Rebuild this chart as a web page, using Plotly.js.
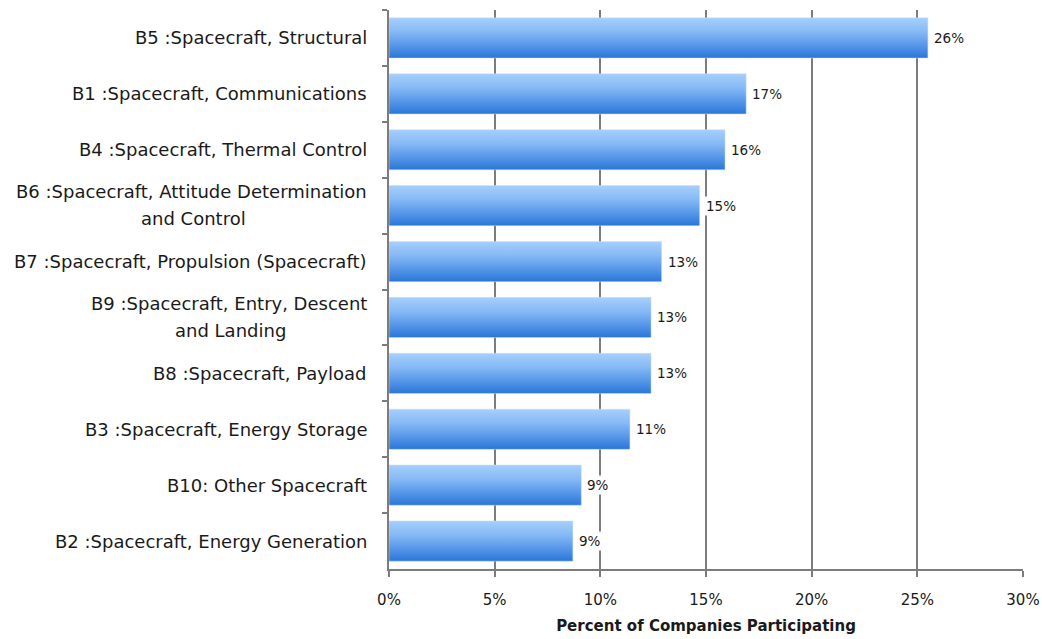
<!DOCTYPE html>
<html>
<head>
<meta charset="utf-8">
<script src="https://cdn.plot.ly/plotly-3.0.1.min.js"></script>
<style>html,body{margin:0;padding:0;background:#fff;}#chart{width:1042px;height:639px;}</style>
</head>
<body>
<div id="chart"></div>
<script>
const categories = [
  "B5 :Spacecraft, Structural",
  "B1 :Spacecraft, Communications",
  "B4 :Spacecraft, Thermal Control",
  "B6 :Spacecraft, Attitude Determination<br>and Control",
  "B7 :Spacecraft, Propulsion (Spacecraft)",
  "B9 :Spacecraft, Entry, Descent<br>and Landing",
  "B8 :Spacecraft, Payload",
  "B3 :Spacecraft, Energy Storage",
  "B10: Other Spacecraft",
  "B2 :Spacecraft, Energy Generation"
];
const values = [25.5, 16.9, 15.9, 14.7, 12.9, 12.4, 12.4, 11.4, 9.1, 8.7];
const valueLabels = ["26%", "17%", "16%", "15%", "13%", "13%", "13%", "11%", "9%", "9%"];
const tickVals = [0, 5, 10, 15, 20, 25, 30];
const tickText = ["0%", "5%", "10%", "15%", "20%", "25%", "30%"];

const font = "'DejaVu Sans', sans-serif";
const catFontSize = 18;
const textColor = "#1a1a1a";
const gridColor = "#7c7c7c";

const trace = {
  type: "bar",
  orientation: "h",
  y: categories,
  x: values,
  width: 0.72,
  marker: {color: "#5a9cec", line: {color: "#c9e0fb", width: 0.5}},
  hoverinfo: "none"
};

// measure text width (for centering second label line under the first)
const cv = document.createElement("canvas").getContext("2d");
cv.font = catFontSize + "px 'DejaVu Sans'";

const annotations = [];
categories.forEach((c, i) => {
  const lines = c.split("<br>");
  if (lines.length === 1) {
    annotations.push({
      xref: "paper", yref: "y", x: 0, y: c,
      text: c, showarrow: false, xanchor: "right", yanchor: "middle",
      xshift: -20,
      font: {family: font, size: catFontSize, color: textColor}
    });
  } else {
    const w1 = cv.measureText(lines[0]).width;
    annotations.push({
      xref: "paper", yref: "y", x: 0, y: c,
      text: lines[0], showarrow: false, xanchor: "right", yanchor: "middle",
      xshift: -20, yshift: 14,
      font: {family: font, size: catFontSize, color: textColor}
    });
    annotations.push({
      xref: "paper", yref: "y", x: 0, y: c,
      text: lines[1], showarrow: false, xanchor: "center", yanchor: "middle",
      xshift: -20 - w1 / 2, yshift: -13,
      font: {family: font, size: catFontSize, color: textColor}
    });
  }
  annotations.push({
    xref: "x", yref: "y", x: values[i], y: c,
    text: valueLabels[i], showarrow: false, xanchor: "left", yanchor: "middle",
    xshift: 4, bgcolor: "#ffffff", borderpad: 1,
    font: {family: font, size: 13.5, color: textColor}
  });
});

const layout = {
  width: 1042, height: 639,
  margin: {l: 389, r: 19, t: 10, b: 70},
  paper_bgcolor: "#ffffff", plot_bgcolor: "#ffffff",
  showlegend: false,
  xaxis: {
    range: [0, 30], tickvals: tickVals, ticktext: tickText,
    showgrid: true, gridcolor: gridColor, gridwidth: 2,
    zeroline: false, showline: true, linecolor: gridColor, linewidth: 2,
    ticks: "outside", ticklen: 6, tickcolor: gridColor, tickwidth: 2,
    ticklabelstandoff: 10,
    tickfont: {family: font, size: 15, color: textColor},
    title: {text: "<b>Percent of Companies Participating</b>", font: {family: font, size: 15, color: textColor}, standoff: 12},
    fixedrange: true
  },
  yaxis: {
    type: "category", categoryorder: "array", categoryarray: categories,
    autorange: "reversed", showticklabels: false,
    showgrid: false, zeroline: false, showline: true, linecolor: gridColor, linewidth: 2,
    ticks: "outside", tickson: "boundaries", ticklen: 5, tickcolor: gridColor, tickwidth: 2,
    fixedrange: true
  },
  annotations: annotations,
  bargap: 0.28
};

function applyGradient() {
  const gd = document.getElementById("chart");
  const svg = gd.querySelector("svg.main-svg");
  if (!svg) return;
  let defs = svg.querySelector("defs");
  if (!defs) { defs = document.createElementNS("http://www.w3.org/2000/svg", "defs"); svg.insertBefore(defs, svg.firstChild); }
  if (!svg.querySelector("#barGrad")) {
    const g = document.createElementNS("http://www.w3.org/2000/svg", "linearGradient");
    g.setAttribute("id", "barGrad");
    g.setAttribute("x1", "0"); g.setAttribute("y1", "0"); g.setAttribute("x2", "0"); g.setAttribute("y2", "1");
    [["0%", "#a6cffc"], ["35%", "#86b9f5"], ["75%", "#4d90e6"], ["100%", "#2a76d6"]].forEach(s => {
      const st = document.createElementNS("http://www.w3.org/2000/svg", "stop");
      st.setAttribute("offset", s[0]); st.setAttribute("stop-color", s[1]);
      g.appendChild(st);
    });
    defs.appendChild(g);
  }
  gd.querySelectorAll(".trace.bars .point path").forEach(p => { p.style.fill = "url(#barGrad)"; });
}

Plotly.newPlot("chart", [trace], layout, {displayModeBar: false, staticPlot: true}).then(applyGradient);
</script>
</body>
</html>
